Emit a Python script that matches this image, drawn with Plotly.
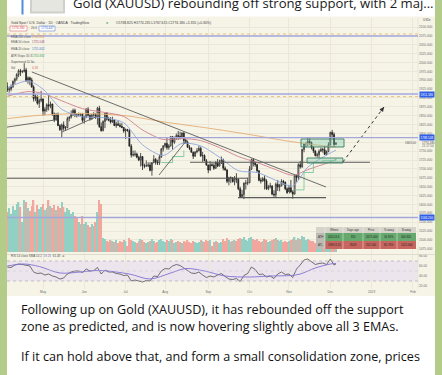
import plotly.graph_objects as go

W, H = 442, 375


def PX(x):
    return x / W


def PY(y):
    return 1 - y / H


# ---------------- data (daily XAUUSD, trading-day index; 0 = 2022-04-01) ----------------
FIRST_BAR = 2
OPEN = ([1932, 1923, 1925, 1932, 1947, 1954, 1966, 1977, 1974, 1975, 1979, 1950, 1957, 1951, 1931, 1898, 1904, 1885, 1893]
        + [1897, 1863, 1868, 1881, 1877, 1883, 1855, 1838, 1853, 1822, 1811, 1824, 1815, 1816, 1842, 1846, 1854, 1865, 1853, 1851, 1853, 1856]
        + [1837, 1847, 1869, 1851, 1842, 1852, 1853, 1848, 1871, 1819, 1808, 1834, 1857, 1840, 1838, 1832, 1838, 1822, 1827, 1823, 1820, 1817]
        + [1807, 1811, 1808, 1764, 1739, 1740, 1742, 1733, 1725, 1735, 1709, 1708, 1709, 1711, 1696, 1718, 1727, 1719, 1717, 1734, 1756]
        + [1765, 1772, 1760, 1765, 1791, 1775, 1789, 1794, 1792, 1789, 1802, 1780, 1775, 1761, 1758, 1747, 1736, 1748, 1751, 1758, 1737, 1738, 1723]
        + [1711, 1697, 1712, 1710, 1702, 1718, 1708, 1716, 1725, 1702, 1697, 1665, 1675, 1675, 1664, 1674, 1671, 1644, 1622, 1628, 1660, 1660]
        + [1661, 1699, 1726, 1716, 1712, 1695, 1668, 1666, 1673, 1666, 1644, 1650, 1652, 1629, 1627, 1657, 1649, 1652, 1665, 1663, 1644]
        + [1633, 1647, 1635, 1629, 1681, 1676, 1712, 1706, 1755, 1771, 1772, 1778, 1774, 1761, 1751, 1738, 1740, 1750, 1755, 1754, 1741, 1749]
        + [1768, 1803, 1797, 1769])
HIGH = ([1944, 1932, 1938, 1949, 1957, 1970, 1981, 1982, 1978, 1998, 1985, 1961, 1960, 1957, 1936, 1911, 1908, 1898, 1920]
        + [1899, 1874, 1885, 1909, 1890, 1884, 1859, 1858, 1859, 1826, 1828, 1834, 1821, 1847, 1849, 1865, 1870, 1870, 1857, 1859, 1858, 1858]
        + [1850, 1871, 1874, 1854, 1856, 1860, 1858, 1875, 1878, 1831, 1837, 1857, 1860, 1847, 1846, 1847, 1840, 1833, 1836, 1830, 1829, 1818]
        + [1814, 1813, 1812, 1770, 1752, 1752, 1746, 1737, 1745, 1736, 1715, 1724, 1719, 1719, 1719, 1739, 1731, 1726, 1740, 1759, 1767]
        + [1774, 1788, 1770, 1793, 1792, 1791, 1800, 1807, 1805, 1802, 1802, 1785, 1780, 1767, 1761, 1749, 1750, 1759, 1765, 1763, 1748, 1741, 1728]
        + [1712, 1722, 1717, 1716, 1722, 1728, 1726, 1735, 1729, 1707, 1699, 1678, 1679, 1677, 1680, 1688, 1672, 1650, 1641, 1662, 1669, 1675]
        + [1708, 1729, 1730, 1721, 1714, 1697, 1675, 1677, 1682, 1671, 1655, 1661, 1654, 1640, 1662, 1669, 1658, 1671, 1669, 1664, 1648]
        + [1655, 1669, 1640, 1682, 1684, 1716, 1722, 1757, 1773, 1775, 1787, 1786, 1777, 1764, 1752, 1746, 1755, 1760, 1759, 1764, 1752, 1775]
        + [1805, 1810, 1803, 1774])
LOW = ([1917, 1915, 1919, 1928, 1939, 1949, 1959, 1962, 1970, 1972, 1945, 1940, 1936, 1929, 1890, 1891, 1881, 1872, 1888]
       + [1850, 1851, 1861, 1865, 1871, 1850, 1832, 1836, 1821, 1807, 1787, 1808, 1807, 1815, 1834, 1842, 1849, 1846, 1845, 1848, 1849, 1831]
       + [1828, 1843, 1848, 1836, 1838, 1847, 1841, 1825, 1816, 1805, 1806, 1815, 1836, 1834, 1828, 1830, 1821, 1816, 1822, 1817, 1815, 1802]
       + [1784, 1805, 1764, 1732, 1735, 1735, 1730, 1722, 1707, 1697, 1702, 1706, 1705, 1693, 1681, 1716, 1712, 1711, 1711, 1731, 1749]
       + [1760, 1754, 1754, 1763, 1754, 1771, 1782, 1782, 1783, 1786, 1772, 1771, 1760, 1753, 1746, 1728, 1734, 1744, 1750, 1734, 1720, 1722, 1709]
       + [1688, 1695, 1707, 1697, 1700, 1705, 1707, 1714, 1696, 1695, 1660, 1654, 1660, 1662, 1654, 1660, 1640, 1621, 1620, 1615, 1642, 1654]
       + [1660, 1697, 1707, 1706, 1690, 1665, 1659, 1664, 1642, 1641, 1640, 1645, 1626, 1621, 1618, 1638, 1637, 1651, 1655, 1640, 1630]
       + [1630, 1633, 1616, 1628, 1664, 1669, 1701, 1703, 1747, 1761, 1765, 1767, 1755, 1745, 1735, 1732, 1731, 1748, 1746, 1740, 1738, 1747]
       + [1766, 1786, 1764, 1768])
CLOSE = ([1923, 1925, 1932, 1947, 1954, 1966, 1977, 1974, 1975, 1979, 1950, 1957, 1951, 1931, 1898, 1904, 1885, 1893, 1897]
         + [1863, 1868, 1881, 1877, 1883, 1855, 1838, 1853, 1822, 1811, 1824, 1815, 1816, 1842, 1846, 1854, 1865, 1853, 1851, 1853, 1856, 1837]
         + [1847, 1869, 1851, 1842, 1852, 1853, 1848, 1871, 1819, 1808, 1834, 1857, 1840, 1838, 1832, 1838, 1822, 1827, 1823, 1820, 1817, 1807]
         + [1811, 1808, 1764, 1739, 1740, 1742, 1733, 1725, 1735, 1709, 1708, 1709, 1711, 1696, 1718, 1727, 1719, 1717, 1734, 1756, 1765]
         + [1772, 1760, 1765, 1791, 1775, 1789, 1794, 1792, 1789, 1802, 1780, 1775, 1761, 1758, 1747, 1736, 1748, 1751, 1758, 1737, 1738, 1723, 1711]
         + [1697, 1712, 1710, 1702, 1718, 1708, 1716, 1725, 1702, 1697, 1665, 1675, 1675, 1664, 1674, 1671, 1644, 1622, 1628, 1660, 1660, 1661]
         + [1699, 1726, 1716, 1712, 1695, 1668, 1666, 1673, 1666, 1644, 1650, 1652, 1629, 1627, 1657, 1649, 1652, 1665, 1663, 1644, 1633]
         + [1647, 1635, 1629, 1681, 1676, 1712, 1706, 1755, 1771, 1772, 1778, 1774, 1761, 1751, 1738, 1740, 1750, 1755, 1754, 1741, 1749, 1768]
         + [1803, 1797, 1769, 1774])
VOLUME = ([40, 44, 38, 46, 42, 48, 50, 45, 30, 52, 50, 44, 41, 46, 52, 40, 47, 43, 45]
          + [48, 42, 44, 52, 46, 44, 47, 42, 46, 44, 50, 45, 40, 44, 42, 38, 40, 36, 34, 30, 28, 36]
          + [28, 30, 27, 25, 28, 26, 30, 40, 52, 48, 14, 13, 11, 10, 12, 11, 10, 12, 9, 11, 10, 12]
          + [11, 6, 14, 12, 11, 10, 9, 11, 13, 12, 10, 9, 10, 11, 13, 11, 9, 10, 12, 13, 11]
          + [10, 12, 11, 13, 12, 9, 10, 11, 10, 9, 11, 10, 12, 10, 9, 11, 10, 9, 10, 12, 11, 10, 12]
          + [11, 12, 6, 10, 11, 10, 9, 10, 13, 11, 14, 12, 10, 11, 12, 11, 13, 14, 13, 15, 12, 11]
          + [14, 15, 13, 12, 13, 11, 10, 11, 13, 12, 10, 11, 12, 13, 14, 12, 11, 12, 10, 11, 10]
          + [11, 12, 13, 15, 12, 14, 13, 16, 15, 12, 13, 12, 11, 11, 9, 10, 9, 6, 7, 10, 9, 11]
          + [12, 10, 9, 4])
BAR_IDX = list(range(FIRST_BAR, FIRST_BAR + len(CLOSE)))

EMA_IDX = [2, 13, 21, 31, 42, 53, 64, 74, 85, 95, 105, 115, 125, 135, 145, 154, 162, 173, 177]
EMA20 = [1928, 1948, 1925, 1868, 1847, 1845, 1830, 1768, 1738, 1772, 1765, 1733, 1695, 1690, 1668, 1652, 1705, 1742, 1753]
EMA50 = [1905, 1918, 1913, 1892, 1870, 1860, 1848, 1810, 1783, 1786, 1780, 1760, 1735, 1718, 1698, 1682, 1698, 1718, 1727]
EMA200_IDX = [2, 21, 43, 65, 86, 109, 131, 152, 174, 177]
EMA200 = [1842, 1852, 1856, 1850, 1832, 1815, 1797, 1778, 1763, 1762]
ATR_IDX = [84, 90, 96, None, 155, 160, 165, 170, 177]
ATR_STOP = [1718, 1735, 1752, None, 1641, 1690, 1718, 1724, 1730]

RSI_IDX = list(range(2, 177, 2)) + [177]
RSI = ([58, 57, 62, 64, 63, 62, 60, 48, 45, 46]
       + [42, 44, 40, 38, 34, 36, 44, 48, 50, 50]
       + [47, 54, 50, 51, 57, 44, 52, 48, 48, 45]
       + [44, 41, 42, 30, 32, 30, 28, 31, 30, 40]
       + [39, 50, 55, 54, 60, 63, 61, 56, 51, 46]
       + [45, 48, 42, 37, 40, 38, 42, 45, 39, 34]
       + [33, 35, 29, 41, 45, 58, 53, 43, 44, 38]
       + [40, 35, 44, 48, 43, 44, 37, 54, 62, 72]
       + [74, 69, 63, 65, 66, 63, 74, 62]
       + [64])
RSI_MA_IDX = [2, 11, 19, 30, 41, 51, 67, 78, 89, 97, 107, 118, 131, 142, 153, 158, 166, 174, 177]
RSI_MA = [60, 64, 59, 46, 48, 51, 44, 34, 46, 55, 50, 40, 38, 40, 41, 44, 56, 64, 65]

MONTH_IDX = [21, 43, 65, 86, 109, 131, 152, 174, 196, 218]
MONTH_LBL = ["May", "Jun", "Jul", "Aug", "Sep", "Oct", "Nov", "Dec", "2023", "Feb"]
PRICE_TICKS = [1475, 1500, 1525, 1550, 1575, 1600, 1625, 1650, 1675, 1700, 1725, 1750, 1775,
               1800, 1825, 1850, 1875, 1900, 1925, 1950, 1975, 2000, 2025, 2050, 2075, 2100]
PRICE_LBL = ["" if v == 1775 else "%.3f" % v for v in PRICE_TICKS]
RSI_TICKS = [20, 40, 60, 80]
RSI_LBL = ["20.00", "40.00", "60.00", "80.00"]

LEVELS = [2074.8, 1911.186, 1788.148, 1563.2]
DOTTED_LEVELS = [2080.4, 1904.0]
SUPPORTS = [(1.83, 130.2, 1673.6), (124.8, 171.7, 1619.0), (99.3, 195.1, 1718.7)]
TRENDS = [(15.1, 1973.3, 171.7, 1649.1), (31.1, 1804, 51.4, 1852), (1.83, 1818, 27.4, 1838),
          (82.8, 1683, 97.7, 1782)]
ZONES = [(158.4, 181.3, 1761.9, 1784.4), (161.6, 180.7, 1716.7, 1730.8)]
PROJ_IDX = [180.7, 202.6]
PROJ_PRICE = [1719.6, 1874.6]

TABLE_HEAD = ["", "Where", "Days ago", "Price", "% away", "$ away"]
TABLE_ATH = ["ATH", "2020-8-6", "851", "2075.000", "16.95%", "300.820"]
TABLE_ATL = ["ATL", "1999-8-25", "8509", "252.540", "85.76%", "1521.640"]

X_RANGE = [1.83, 220.7]
Y_RANGE = [1460.2, 2125.5]

TXT = "Liberation Sans"
MSG = "Open Sans"
fig = go.Figure()

vol_colors = ["#93d0c4" if c >= o else "#f2a79e" for o, c in zip(OPEN, CLOSE)]
fig.add_trace(go.Bar(x=BAR_IDX, y=VOLUME, marker_color=vol_colors, marker_line_width=0, width=0.72,
                     xaxis="x", yaxis="y2", hoverinfo="skip"))
fig.add_trace(go.Scatter(x=EMA200_IDX, y=EMA200, mode="lines", xaxis="x", yaxis="y",
                         line=dict(color="#e6b47e", width=1, shape="spline", smoothing=0.8), hoverinfo="skip"))
fig.add_trace(go.Scatter(x=EMA_IDX, y=EMA50, mode="lines", xaxis="x", yaxis="y",
                         line=dict(color="#cf7f8c", width=0.9, shape="spline", smoothing=0.8), hoverinfo="skip"))
fig.add_trace(go.Scatter(x=EMA_IDX, y=EMA20, mode="lines", xaxis="x", yaxis="y",
                         line=dict(color="#8ea6e0", width=0.9, shape="spline", smoothing=0.8), hoverinfo="skip"))
fig.add_trace(go.Scatter(x=ATR_IDX, y=ATR_STOP, mode="lines", xaxis="x", yaxis="y", connectgaps=False,
                         line=dict(color="#7cc79a", width=0.9, shape="hv"), hoverinfo="skip"))
fig.add_trace(go.Candlestick(x=BAR_IDX, open=OPEN, high=HIGH, low=LOW, close=CLOSE, xaxis="x", yaxis="y",
                             increasing=dict(line=dict(color="#2b2b2b", width=0.8), fillcolor="#fbfbf4"),
                             decreasing=dict(line=dict(color="#1e1e1e", width=0.8), fillcolor="#1e1e1e"),
                             whiskerwidth=0, hoverinfo="skip"))
fig.add_trace(go.Scatter(x=PROJ_IDX, y=PROJ_PRICE, mode="lines", xaxis="x", yaxis="y",
                         line=dict(color="#333333", width=1, dash="dot"), hoverinfo="skip"))
fig.add_trace(go.Scatter(x=RSI_IDX, y=RSI, mode="lines", xaxis="x2", yaxis="y3",
                         line=dict(color="#3a3a3a", width=0.7), hoverinfo="skip"))
fig.add_trace(go.Scatter(x=RSI_MA_IDX, y=RSI_MA, mode="lines", xaxis="x2", yaxis="y3",
                         line=dict(color="#7f72cf", width=0.9, shape="spline", smoothing=0.9), hoverinfo="skip"))

shapes = []
shapes.append(dict(type="rect", xref="paper", yref="paper", x0=PX(7), x1=PX(435), y0=0, y1=1,
                   fillcolor="#ffffff", line_width=0, layer="below"))
shapes.append(dict(type="rect", xref="paper", yref="paper", x0=PX(7), x1=PX(435), y0=PY(296), y1=PY(16.5),
                   fillcolor="#f6f4e7", line_width=0, layer="below"))
shapes.append(dict(type="rect", xref="paper", yref="paper", x0=PX(21.5), x1=PX(23.5), y0=PY(14.5), y1=PY(0),
                   fillcolor="#4d8fd6", line_width=0))
shapes.append(dict(type="rect", xref="paper", yref="paper", x0=PX(30), x1=PX(65), y0=PY(13.5), y1=PY(0),
                   fillcolor="#cfd0ca", line_width=0))
shapes.append(dict(type="rect", xref="paper", yref="paper", x0=PX(32), x1=PX(63), y0=PY(11.5), y1=PY(0),
                   fillcolor="#e6e6e1", line_width=0))
shapes.append(dict(type="rect", xref="x2", yref="y3", x0=X_RANGE[0], x1=X_RANGE[1], y0=30, y1=70,
                   fillcolor="#ece5ee", line_width=0, layer="below"))
for lv, col in [(70, "#a49cb0"), (50, "#cfc6d6"), (30, "#a49cb0")]:
    shapes.append(dict(type="line", xref="x2", yref="y3", x0=X_RANGE[0], x1=X_RANGE[1], y0=lv, y1=lv,
                       line=dict(color=col, width=0.6, dash="dot")))
shapes.append(dict(type="line", xref="paper", yref="paper", x0=PX(7), x1=PX(435), y0=PY(254.5), y1=PY(254.5),
                   line=dict(color="#d9d6c6", width=0.8)))
shapes.append(dict(type="line", xref="paper", yref="paper", x0=PX(418), x1=PX(418), y0=PY(289), y1=PY(17),
                   line=dict(color="#e2dfd2", width=0.6)))
for lv in LEVELS:
    shapes.append(dict(type="line", xref="x", yref="y", x0=X_RANGE[0], x1=X_RANGE[1], y0=lv, y1=lv,
                       line=dict(color="#a3a7dc", width=1.4)))
for lv in DOTTED_LEVELS:
    shapes.append(dict(type="line", xref="x", yref="y", x0=X_RANGE[0], x1=X_RANGE[1], y0=lv, y1=lv,
                       line=dict(color="#e2b75c", width=0.8, dash="dot")))
for x0, x1, lv in SUPPORTS:
    shapes.append(dict(type="line", xref="x", yref="y", x0=x0, x1=x1, y0=lv, y1=lv,
                       line=dict(color="#5a5a5a", width=1.1)))
for x0, y0, x1, y1 in TRENDS:
    shapes.append(dict(type="line", xref="x", yref="y", x0=x0, x1=x1, y0=y0, y1=y1,
                       line=dict(color="#5c5c5c", width=0.9)))
for x0, x1, y0, y1 in ZONES:
    shapes.append(dict(type="rect", xref="x", yref="y", x0=x0, x1=x1, y0=y0, y1=y1,
                       fillcolor="rgba(120,200,170,0.35)", line=dict(color="#3b7d62", width=0.9)))

COLX = [316, 325, 343, 363, 380, 397, 416]
ROWY = [227, 233, 241, 249]
shapes.append(dict(type="rect", xref="paper", yref="paper", x0=PX(COLX[0]), x1=PX(COLX[-1]), y0=PY(ROWY[1]), y1=PY(ROWY[0]),
                   fillcolor="#d6d4ca", line_width=0))
shapes.append(dict(type="rect", xref="paper", yref="paper", x0=PX(COLX[0]), x1=PX(COLX[1]), y0=PY(ROWY[3]), y1=PY(ROWY[1]),
                   fillcolor="#bdbcb4", line_width=0))
shapes.append(dict(type="rect", xref="paper", yref="paper", x0=PX(COLX[1]), x1=PX(COLX[-1]), y0=PY(ROWY[2]), y1=PY(ROWY[1]),
                   fillcolor="#66a96f", line_width=0))
shapes.append(dict(type="rect", xref="paper", yref="paper", x0=PX(COLX[1]), x1=PX(COLX[-1]), y0=PY(ROWY[3]), y1=PY(ROWY[2]),
                   fillcolor="#c7665e", line_width=0))
for cx in COLX[1:-1]:
    shapes.append(dict(type="line", xref="paper", yref="paper", x0=PX(cx), x1=PX(cx), y0=PY(ROWY[3]), y1=PY(ROWY[0]),
                       line=dict(color="#eeeeea", width=0.5)))
shapes.append(dict(type="rect", xref="paper", yref="paper", x0=PX(10), x1=PX(27), y0=PY(31), y1=PY(26),
                   fillcolor="#ffffff", line=dict(color="#e07070", width=0.6)))
shapes.append(dict(type="rect", xref="paper", yref="paper", x0=PX(39), x1=PX(55), y0=PY(31), y1=PY(26),
                   fillcolor="#ffffff", line=dict(color="#6a88d8", width=0.6)))

ann = []


def text(x, y, s, size=3.2, color="#555555", family=TXT, anchor="left", **kw):
    ann.append(dict(xref="paper", yref="paper", x=PX(x), y=PY(y), text=s, showarrow=False, borderpad=0,
                    xanchor=anchor, yanchor="middle", font=dict(size=size, color=color, family=family), **kw))


text(72, 2.5, "Gold (XAUUSD) rebounding off strong support, with 2 maj...", size=13.1, color="#1a1a1a", family=MSG)
text(20, 309.3, "Following up on Gold (XAUUSD), it has rebounded off the support", size=12.6, color="#111111", family=MSG)
text(20, 326.7, "zone as predicted, and is now hovering slightly above all 3 EMAs.", size=12.6, color="#111111", family=MSG)
text(20, 356.7, "If it can hold above that, and form a small consolidation zone, prices", size=12.6, color="#111111", family=MSG)

text(10, 22.5, "Gold Spot / U.S. Dollar · 1D · OANDA · TradingView", size=3.4, color="#3c3c3c")
text(105, 22.5, "●", size=3.6, color="#3aa657")
text(115, 22.5, "O1768.825 H1774.235 L1767.615 C1774.180 +5.355 (+0.30%)", size=3.4, color="#3c3c3c")
text(18.5, 28.5, "1774.180", size=3, color="#d04545", anchor="center")
text(30, 28.5, "26.6", size=3, color="#555555")
text(47, 28.5, "1774.447", size=3, color="#3f66c8", anchor="center")
LEG = [("EMA 200 close", "1760.081", "#e39a3b", 37), ("EMA 50 close", "1725.548", "#a04a78", 42.5),
       ("EMA 20 close", "1751.602", "#3f74c9", 49), ("ATR Stops 30 3", "1755.692", "#2f9a58", 56),
       ("Supertrend 10 3", "⊘", "#555555", 62.5), ("Vol", "4.1K", "#d85c5c", 68.5)]
for lab, val, col, yy in LEG:
    text(10, yy, lab, size=3, color="#555555")
    text(31, yy, val, size=3, color=col)
text(10, 255.8, "RSI 14 close SMA 14 2  <span style='color:#7f72cf'>59.26</span>  61.48  ⊘", size=3, color="#555555")
text(422, 20.5, "USD▾", size=3, color="#555555")
text(404, 142.6, "1663.00", size=3, color="#555555")
text(421, 142.6, "1774.180", size=3, color="#444444")
text(421, 146.2, "21:17:54", size=3, color="#666666")

for r, row in enumerate([TABLE_HEAD, TABLE_ATH, TABLE_ATL]):
    ymid = (ROWY[r] + ROWY[r + 1]) / 2
    for c, s in enumerate(row):
        if s:
            text((COLX[c] + COLX[c + 1]) / 2, ymid, s, size=2.8,
                 color="#333333" if r == 0 or c == 0 else "#1f1f1f", anchor="center")

for lv in [1911.186, 1788.148, 1563.2]:
    ann.append(dict(xref="paper", yref="y", x=PX(418.5), y=lv, text="%.3f" % lv, showarrow=False,
                    xanchor="left", yanchor="middle", bgcolor="#2f5ce8", borderpad=0.6,
                    font=dict(size=3, color="#ffffff", family=TXT)))
ann.append(dict(xref="x", yref="y", x=PROJ_IDX[1], y=PROJ_PRICE[1], axref="x", ayref="y",
                ax=PROJ_IDX[1] - 2.2, ay=PROJ_PRICE[1] - 15, text="", showarrow=True,
                arrowhead=2, arrowsize=0.9, arrowwidth=1, arrowcolor="#333333"))

GRID = "#ebe8d9"
TICKF = dict(size=3.2, color="#6b6b6b", family=TXT)
fig.update_layout(
    width=W, height=H, autosize=False, margin=dict(l=0, r=0, t=0, b=0, pad=0),
    paper_bgcolor="#b4cc8a", plot_bgcolor="rgba(0,0,0,0)", showlegend=False,
    shapes=shapes, annotations=ann,
    xaxis=dict(domain=[PX(7), PX(418)], range=X_RANGE, anchor="y", showticklabels=False, ticks="",
               tickvals=MONTH_IDX, showgrid=True, gridcolor=GRID, gridwidth=0.6, zeroline=False,
               showline=False, rangeslider=dict(visible=False), fixedrange=True),
    yaxis=dict(domain=[PY(254), PY(18)], range=Y_RANGE, anchor="x", side="right", tickvals=PRICE_TICKS,
               ticktext=PRICE_LBL, tickfont=TICKF, ticks="", showgrid=True, gridcolor=GRID, gridwidth=0.6,
               zeroline=False, showline=False, fixedrange=True),
    yaxis2=dict(domain=[PY(252), PY(192)], range=[0, 60], anchor="x", visible=False, fixedrange=True),
    xaxis2=dict(domain=[PX(7), PX(418)], range=X_RANGE, anchor="y3", tickvals=MONTH_IDX, ticktext=MONTH_LBL,
                tickfont=TICKF, ticks="", showgrid=True, gridcolor=GRID, gridwidth=0.6, zeroline=False,
                showline=False, rangeslider=dict(visible=False), fixedrange=True),
    yaxis3=dict(domain=[PY(289), PY(255)], range=[14, 82], anchor="x2", side="right", tickvals=RSI_TICKS,
                ticktext=RSI_LBL, tickfont=TICKF, ticks="", showgrid=False, zeroline=False, fixedrange=True),
)

fig.write_html("out.html", config=dict(displayModeBar=False),
               post_script="document.body.style.margin='0px';document.body.style.overflow='hidden';")
